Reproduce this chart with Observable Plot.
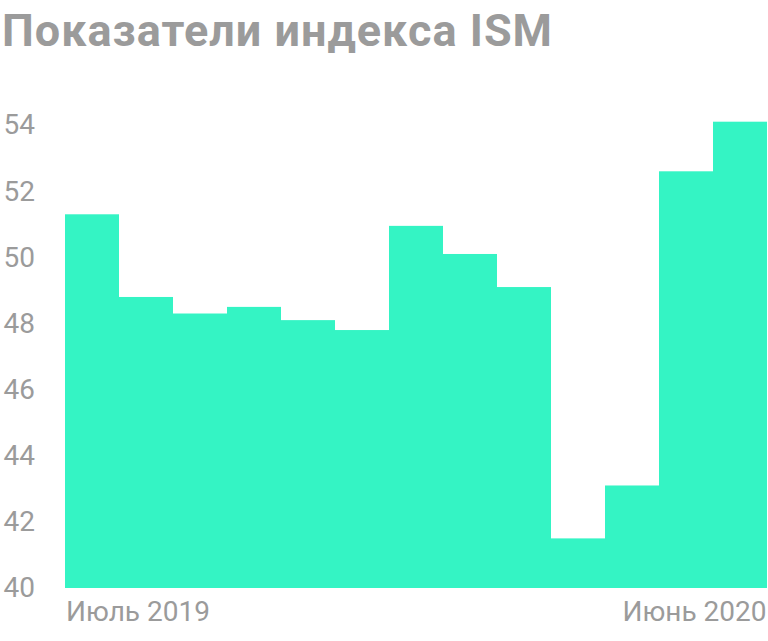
<!DOCTYPE html>
<html>
<head>
<meta charset="utf-8">
<script src="https://cdn.jsdelivr.net/npm/d3@7"></script>
<script src="https://cdn.jsdelivr.net/npm/@observablehq/plot@0.6"></script>
<style>
  html, body { margin: 0; padding: 0; background: #fff; }
  body { width: 768px; height: 641px; overflow: hidden; font-family: Roboto, "Noto Sans", sans-serif; }
  #title { font-family: Roboto, sans-serif; font-weight: 700; font-size: 45px; line-height: 44px; color: #9b9b9b; margin: 9px 0 0 2px; height: 61px; letter-spacing: 1px; white-space: nowrap; }
</style>
</head>
<body>
<div id="title">Показатели индекса ISM</div>
<div id="chart"></div>
<script>
const months = ["2019-07","2019-08","2019-09","2019-10","2019-11","2019-12","2020-01","2020-02","2020-03","2020-04","2020-05","2020-06","2020-07"];
const values = [51.3, 48.8, 48.3, 48.5, 48.1, 47.8, 50.95, 50.1, 49.1, 41.5, 43.1, 52.6, 54.1];
const yTicks = [40, 42, 44, 46, 48, 50, 52, 54];
const xTickMonths = ["2019-07", "2020-07"];
const xTickLabels = ["Июль 2019", "Июнь 2020"];

const data = months.map((m, i) => ({month: m, value: values[i]}));
const xLabels = xTickMonths.map((m, i) => ({month: m, label: xTickLabels[i], anchor: i === 0 ? "start" : "end"}));

const gray = "#9b9b9b";
const chart = Plot.plot({
  width: 768,
  height: 571,
  marginTop: 55,
  marginBottom: 53,
  marginLeft: 63.5,
  marginRight: 0,
  style: {fontFamily: "Roboto, sans-serif", background: "transparent"},
  x: {domain: months, padding: 0, axis: null},
  y: {domain: [40, 54], axis: null},
  marks: [
    Plot.barY(data, {x: "month", y1: () => 40, y2: "value", fill: "#34f4c4", inset: 0}),
    Plot.axisY(yTicks, {
      anchor: "left", tickSize: 0, tickPadding: 0, textAnchor: "start", dx: -60.5,
      fontSize: 28, fill: gray, tickFormat: d => String(d), label: null
    }),
    Plot.text(xLabels.filter(d => d.anchor === "start"), {
      x: "month", text: "label", frameAnchor: "bottom", textAnchor: "start",
      dx: -26.5, dy: 32, fontSize: 28, fill: gray, letterSpacing: 0.4
    }),
    Plot.text(xLabels.filter(d => d.anchor === "end"), {
      x: "month", text: "label", frameAnchor: "bottom", textAnchor: "end",
      dx: 26, dy: 32, fontSize: 28, fill: gray, letterSpacing: 0.4
    })
  ]
});
document.getElementById("chart").appendChild(chart);
</script>
</body>
</html>
